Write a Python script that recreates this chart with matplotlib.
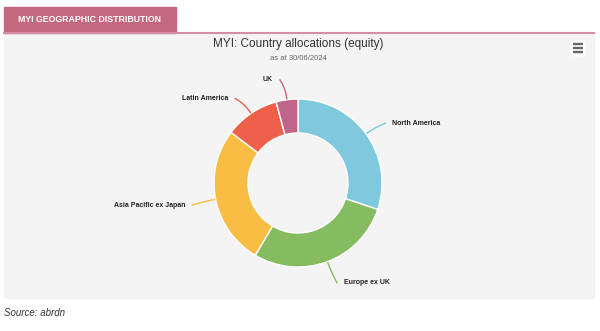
import numpy as np
import matplotlib.pyplot as plt
from matplotlib.patches import Rectangle, FancyBboxPatch

# allocations (%)
regions = ["North America", "Europe ex UK", "Asia Pacific ex Japan", "Latin America", "UK"]
weights = [30.1, 28.4, 26.8, 10.5, 4.2]
colours = ["#7ec9de", "#85bb61", "#f9bd44", "#ef604b", "#c1668a"]

W, H = 600, 331
fig = plt.figure(figsize=(6, 3.31), dpi=100)
ax = fig.add_axes([0, 0, 1, 1])


def fy(y):
    # layout measured from the top of the picture
    return H - y


# chart panel
ax.add_patch(Rectangle((4, fy(298)), 590, 264, color="#f4f4f4", zorder=0))
ax.add_patch(Rectangle((4, fy(33)), 172, 26, color="#c4687f", zorder=1))
ax.plot([4, 594], [fy(33), fy(33)], color="#d58ea6", lw=1.5, zorder=2)
ax.text(90, fy(20), "MYI GEOGRAPHIC DISTRIBUTION", color="white", fontsize=6.3,
        fontweight="bold", ha="center", va="center",
        family=["Liberation Sans Narrow", "Liberation Sans"])

ax.text(298, fy(44), "MYI: Country allocations (equity)", fontsize=8.5,
        color="#333333", ha="center", va="center", family="Liberation Sans")
ax.text(298, fy(59), "as at 30/06/2024", fontsize=5.5, color="#666666",
        ha="center", va="center", family="Liberation Sans")

# menu button
ax.add_patch(FancyBboxPatch((570, fy(56)), 15, 15, boxstyle="round,pad=0.5,rounding_size=2",
                            fc="white", ec="none", zorder=2))
for yy in (44, 48, 52):
    ax.plot([572.5, 582.5], [fy(yy), fy(yy)], color="#666666", lw=1.7,
            solid_capstyle="butt", zorder=3)

# donut
cx, cy, R = 298, 183, 84
wedges, _ = ax.pie(weights, colors=colours, startangle=90, counterclock=False,
                   center=(cx, fy(cy)), radius=R,
                   wedgeprops=dict(width=34, edgecolor="white", linewidth=1))

# label tweaks (px) on top of a 30px radial distance
shift = {"North America": (2, 7), "Europe ex UK": (6, -7),
         "Asia Pacific ex Japan": (-1, 0), "Latin America": (-6, 10), "UK": (-10, 10)}

for w, name in zip(wedges, regions):
    a = np.deg2rad((w.theta1 + w.theta2) / 2)
    ca, sa = np.cos(a), np.sin(a)
    dx, dy = shift[name]
    lx = cx + (R + 30) * ca + dx
    ly = fy(cy) + (R + 30) * sa - dy
    right = ca >= 0
    ex = lx - 7 if right else lx + 7
    p0 = np.array([cx + (R + 1) * ca, fy(cy) + (R + 1) * sa])
    p1 = np.array([cx + (R + 12) * ca, fy(cy) + (R + 12) * sa])
    p2 = np.array([ex, ly])
    t = np.linspace(0, 1, 20)[:, None]
    curve = (1 - t) ** 2 * p0 + 2 * (1 - t) * t * p1 + t ** 2 * p2
    ax.plot(curve[:, 0], curve[:, 1], color=w.get_facecolor(), lw=1, zorder=3)
    ax.text(lx, ly, name, fontsize=5, fontweight="bold", color="#222222",
            ha="left" if right else "right", va="center", family="Liberation Sans")

ax.text(4, fy(313), "Source: abrdn", fontsize=7, style="italic", color="#333333",
        ha="left", va="center", family="Liberation Sans")

ax.set_xlim(0, W)
ax.set_ylim(0, H)
ax.set_aspect("auto")
ax.axis("off")

fig.savefig("out.png", dpi=100, facecolor="white")
